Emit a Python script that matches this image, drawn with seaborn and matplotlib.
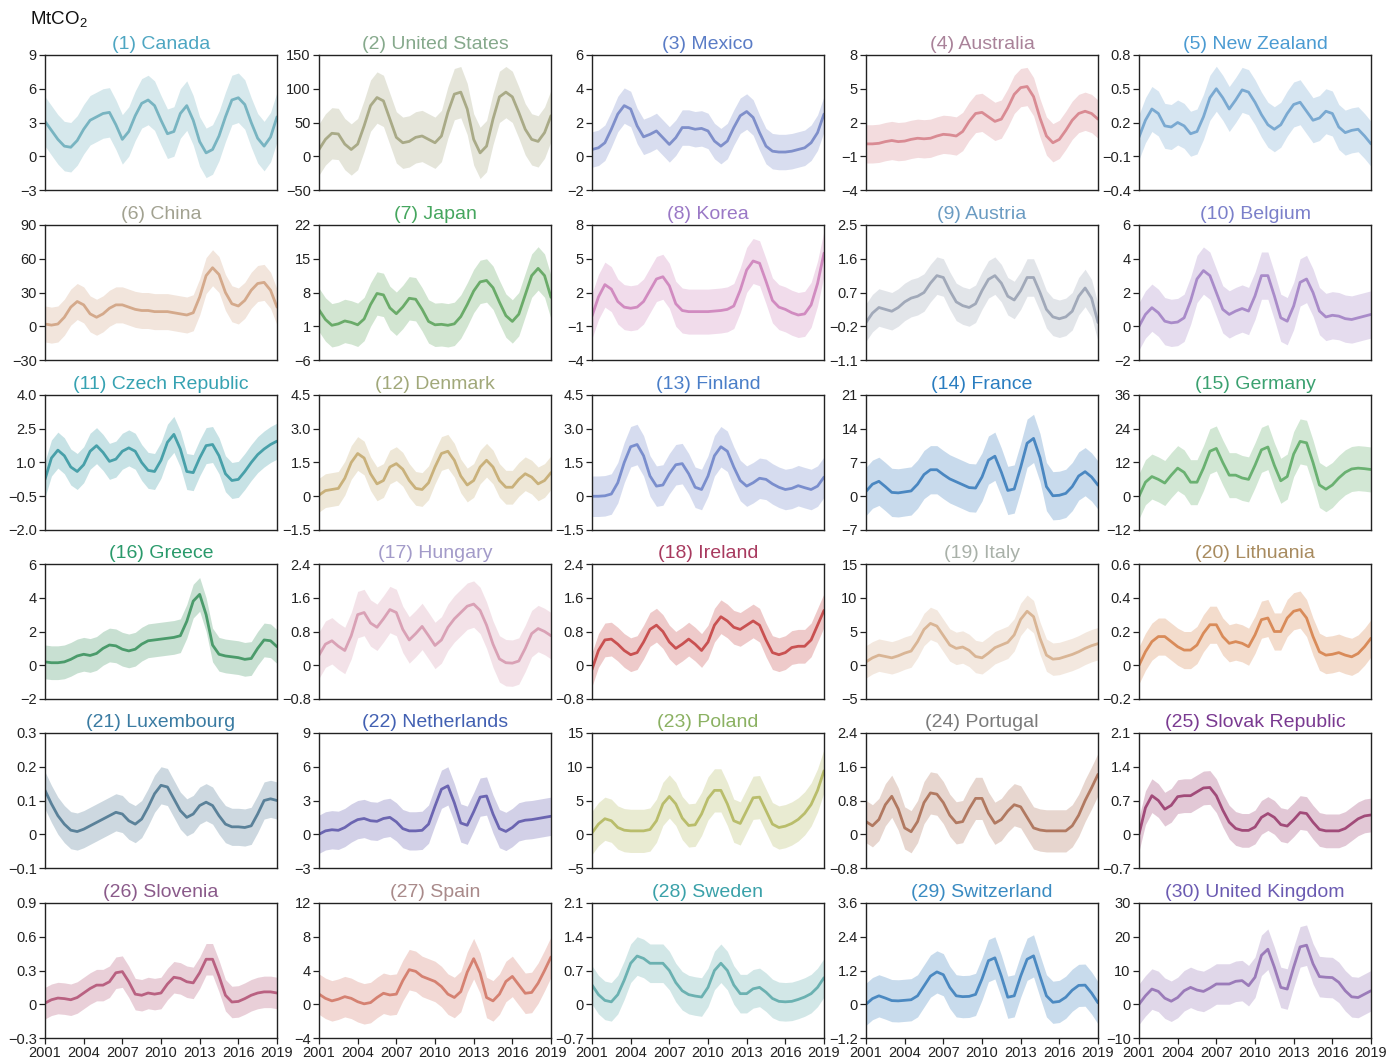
import numpy as np
import pandas as pd
import matplotlib
matplotlib.use("Agg")
import matplotlib.pyplot as plt
import seaborn as sns

# ---------------- data (half-year steps, 2001 ... 2019) ----------------
years = np.arange(2001, 2019.01, 0.5)

names = ["(1) Canada", "(2) United States", "(3) Mexico", "(4) Australia", "(5) New Zealand",
         "(6) China", "(7) Japan", "(8) Korea", "(9) Austria", "(10) Belgium",
         "(11) Czech Republic", "(12) Denmark", "(13) Finland", "(14) France", "(15) Germany",
         "(16) Greece", "(17) Hungary", "(18) Ireland", "(19) Italy", "(20) Lithuania",
         "(21) Luxembourg", "(22) Netherlands", "(23) Poland", "(24) Portugal", "(25) Slovak Republic",
         "(26) Slovenia", "(27) Spain", "(28) Sweden", "(29) Switzerland", "(30) United Kingdom"]

canada = [3.1, 2.3, 1.5, 0.9, 0.8, 1.4, 2.4, 3.2, 3.5, 3.8, 3.9, 2.8, 1.5, 2.2, 3.6, 4.7, 5.0, 4.5, 3.2,
          2.0, 2.2, 3.8, 4.5, 3.2, 1.3, 0.3, 0.6, 1.8, 3.5, 5.0, 5.2, 4.6, 3.0, 1.6, 0.9, 1.7, 3.5]
united_states = [10, 25, 34, 33, 18, 10, 18, 45, 75, 87, 82, 55, 28, 20, 22, 28, 30, 25, 20,
                 30, 65, 92, 95, 70, 25, 5, 15, 55, 88, 95, 88, 65, 40, 25, 22, 35, 60]
mexico = [0.4, 0.5, 0.8, 1.6, 2.5, 3.0, 2.8, 1.8, 1.15, 1.3, 1.5, 1.1, 0.7, 1.1, 1.7, 1.7, 1.6, 1.65, 1.5,
          0.9, 0.6, 0.9, 1.7, 2.4, 2.65, 2.3, 1.4, 0.6, 0.3, 0.25, 0.25, 0.3, 0.4, 0.5, 0.8, 1.4, 2.5]
australia = [0.1, 0.1, 0.15, 0.3, 0.4, 0.3, 0.35, 0.5, 0.6, 0.55, 0.6, 0.8, 0.95, 0.9, 0.8, 1.2, 2.1, 2.8, 2.9,
             2.5, 2.1, 2.3, 3.3, 4.5, 5.1, 5.2, 4.3, 2.4, 0.8, 0.2, 0.5, 1.3, 2.2, 2.8, 3.0, 2.8, 2.3]
new_zealand = [0.07, 0.22, 0.32, 0.28, 0.17, 0.16, 0.2, 0.17, 0.1, 0.12, 0.25, 0.42, 0.5, 0.42, 0.32, 0.4, 0.49,
               0.47, 0.38, 0.27, 0.18, 0.14, 0.18, 0.28, 0.36, 0.38, 0.3, 0.22, 0.24, 0.3, 0.28, 0.16, 0.11,
               0.13, 0.14, 0.08, 0.01]
china = [2, 1, 2, 8, 17, 22, 19, 11, 8, 11, 16, 19, 19, 17, 15, 14, 14, 13, 13,
         13, 12, 11, 10, 12, 26, 45, 52, 46, 30, 20, 18, 23, 32, 38, 39, 32, 17]
japan = [4.4, 2.4, 1.2, 1.5, 2.1, 1.8, 1.3, 2.5, 5.5, 7.8, 7.5, 4.8, 3.6, 5.0, 6.8, 6.6, 4.5, 2.0, 1.3,
         1.4, 1.2, 1.5, 3.0, 5.5, 8.3, 10.2, 10.5, 9.0, 6.0, 3.2, 2.0, 3.5, 7.5, 11.5, 13.0, 11.5, 7.0]
korea = [-0.1, 1.6, 2.7, 2.3, 1.2, 0.7, 0.6, 0.7, 1.2, 2.2, 3.2, 3.4, 2.6, 1.0, 0.4, 0.3, 0.3, 0.3, 0.3,
         0.35, 0.4, 0.5, 0.8, 2.2, 4.0, 4.8, 4.6, 3.0, 1.3, 0.7, 0.5, 0.2, 0.0, 0.1, 0.9, 2.8, 5.5]
austria = [-0.1, 0.15, 0.3, 0.25, 0.2, 0.3, 0.45, 0.55, 0.6, 0.7, 0.95, 1.15, 1.1, 0.75, 0.45, 0.35, 0.3, 0.4,
           0.75, 1.05, 1.15, 0.95, 0.6, 0.5, 0.75, 1.1, 1.1, 0.7, 0.25, 0.05, 0.0, 0.05, 0.2, 0.6, 0.82,
           0.55, -0.1]
belgium = [0.0, 0.7, 1.1, 0.8, 0.3, 0.2, 0.25, 0.5, 1.5, 2.8, 3.3, 3.0, 2.0, 1.0, 0.7, 0.9, 1.05, 0.9, 1.8,
           3.0, 3.0, 1.8, 0.5, 0.3, 1.2, 2.6, 2.8, 2.0, 0.9, 0.55, 0.65, 0.6, 0.45, 0.4, 0.5, 0.6, 0.7]
czech = [0.25, 1.2, 1.55, 1.3, 0.8, 0.6, 0.9, 1.5, 1.75, 1.45, 1.05, 1.15, 1.5, 1.65, 1.5, 1.0, 0.65, 0.6,
         1.1, 1.9, 2.25, 1.6, 0.6, 0.55, 1.2, 1.75, 1.8, 1.3, 0.5, 0.2, 0.25, 0.6, 1.0, 1.35, 1.6, 1.8, 1.95]
denmark = [0.05, 0.25, 0.3, 0.35, 0.8, 1.5, 1.9, 1.7, 1.0, 0.55, 0.7, 1.3, 1.45, 1.2, 0.7, 0.35, 0.3, 0.6,
           1.3, 1.9, 2.0, 1.6, 0.9, 0.5, 0.7, 1.3, 1.6, 1.3, 0.7, 0.4, 0.4, 0.75, 1.0, 0.85, 0.55, 0.7, 1.05]
finland = [0.0, 0.0, 0.02, 0.1, 0.6, 1.5, 2.2, 2.3, 1.8, 0.9, 0.45, 0.5, 1.0, 1.4, 1.45, 1.0, 0.4, 0.3,
           0.9, 1.8, 2.2, 2.0, 1.3, 0.7, 0.45, 0.6, 0.8, 0.75, 0.55, 0.4, 0.3, 0.35, 0.47, 0.38, 0.3,
           0.45, 0.85]
france = [1.0, 2.5, 3.1, 2.0, 0.8, 0.7, 0.9, 1.1, 2.5, 4.5, 5.5, 5.5, 4.5, 3.6, 3.0, 2.4, 1.8, 1.7, 4.0,
          7.5, 8.3, 5.0, 1.2, 1.5, 6.0, 11.0, 12.0, 8.0, 2.0, 0.1, 0.2, 0.6, 2.0, 4.2, 5.1, 4.0, 2.3]
germany = [0.0, 5.0, 7.0, 6.0, 4.7, 7.5, 10.0, 8.5, 5.0, 5.0, 10.0, 16.0, 17.0, 12.0, 7.5, 7.5, 6.5, 6.0,
           11.0, 16.5, 17.5, 11.0, 5.5, 7.0, 15.0, 19.5, 19.0, 12.0, 4.0, 2.5, 4.0, 6.5, 8.5, 9.7, 10.0,
           9.8, 9.5]
greece = [0.2, 0.15, 0.15, 0.2, 0.35, 0.55, 0.65, 0.58, 0.7, 1.0, 1.2, 1.15, 0.95, 0.85, 0.95, 1.25, 1.45,
          1.5, 1.55, 1.6, 1.65, 1.75, 2.6, 3.8, 4.2, 3.0, 1.2, 0.65, 0.55, 0.5, 0.45, 0.35, 0.4, 1.0, 1.5,
          1.45, 1.1]
hungary = [0.24, 0.5, 0.58, 0.45, 0.35, 0.7, 1.2, 1.25, 1.0, 0.9, 1.1, 1.32, 1.25, 0.85, 0.6, 0.75, 0.92,
           0.7, 0.47, 0.6, 0.9, 1.1, 1.25, 1.4, 1.45, 1.3, 0.95, 0.5, 0.15, 0.06, 0.05, 0.1, 0.4, 0.75,
           0.87, 0.8, 0.7]
ireland = [-0.1, 0.35, 0.6, 0.62, 0.5, 0.35, 0.25, 0.3, 0.55, 0.85, 0.95, 0.8, 0.55, 0.4, 0.5, 0.62, 0.5,
           0.35, 0.55, 0.95, 1.15, 1.05, 0.9, 0.85, 0.95, 1.05, 0.95, 0.6, 0.3, 0.25, 0.3, 0.42, 0.45,
           0.45, 0.6, 0.95, 1.3]
italy = [0.5, 1.1, 1.5, 1.3, 1.1, 1.4, 1.8, 2.1, 3.5, 5.3, 6.2, 5.8, 4.4, 3.0, 2.5, 2.7, 2.2, 1.3, 1.1,
         1.8, 2.6, 3.0, 3.4, 4.5, 6.8, 8.0, 7.2, 4.0, 1.5, 0.9, 1.0, 1.3, 1.6, 2.0, 2.5, 2.9, 3.2]
lithuania = [0.0, 0.08, 0.14, 0.17, 0.17, 0.14, 0.11, 0.09, 0.09, 0.12, 0.19, 0.24, 0.24, 0.17, 0.13, 0.14,
             0.13, 0.11, 0.18, 0.27, 0.28, 0.2, 0.2, 0.28, 0.32, 0.33, 0.28, 0.17, 0.08, 0.06, 0.065,
             0.075, 0.06, 0.05, 0.07, 0.11, 0.16]
luxembourg = [0.13, 0.09, 0.055, 0.03, 0.012, 0.008, 0.015, 0.025, 0.035, 0.045, 0.055, 0.065, 0.06, 0.04,
              0.03, 0.045, 0.08, 0.12, 0.145, 0.14, 0.105, 0.07, 0.05, 0.06, 0.085, 0.095, 0.085, 0.055,
              0.03, 0.022, 0.022, 0.02, 0.025, 0.06, 0.1, 0.105, 0.1]
netherlands = [0.0, 0.3, 0.4, 0.35, 0.6, 1.0, 1.3, 1.4, 1.2, 1.15, 1.4, 1.5, 1.1, 0.5, 0.3, 0.3, 0.35, 0.9,
               2.5, 4.0, 4.3, 2.8, 1.0, 0.8, 2.0, 3.3, 3.4, 1.8, 0.5, 0.25, 0.6, 1.1, 1.25, 1.3, 1.4, 1.5,
               1.6]
poland = [0.2, 1.5, 2.3, 2.0, 1.0, 0.6, 0.5, 0.5, 0.5, 0.7, 2.0, 4.5, 5.6, 4.5, 2.4, 1.3, 1.4, 3.0, 5.3,
          6.5, 6.5, 4.5, 2.0, 1.6, 3.5, 5.4, 5.5, 3.5, 1.5, 1.0, 1.2, 1.6, 2.2, 3.1, 4.4, 6.5, 9.4]
portugal = [0.3, 0.2, 0.35, 0.7, 0.9, 0.6, 0.15, 0.06, 0.3, 0.75, 0.98, 0.95, 0.75, 0.45, 0.27, 0.3, 0.6,
            0.85, 0.85, 0.5, 0.26, 0.35, 0.55, 0.7, 0.65, 0.4, 0.15, 0.1, 0.08, 0.08, 0.08, 0.08, 0.2,
            0.45, 0.8, 1.1, 1.42]
slovak = [0.0, 0.55, 0.8, 0.7, 0.52, 0.6, 0.78, 0.8, 0.8, 0.88, 0.96, 0.97, 0.8, 0.5, 0.25, 0.12, 0.08,
          0.08, 0.15, 0.35, 0.43, 0.35, 0.2, 0.17, 0.3, 0.45, 0.43, 0.25, 0.1, 0.07, 0.07, 0.07, 0.12,
          0.22, 0.32, 0.38, 0.4]
slovenia = [0.01, 0.04, 0.055, 0.05, 0.04, 0.06, 0.1, 0.14, 0.17, 0.17, 0.2, 0.28, 0.29, 0.2, 0.09, 0.08,
            0.1, 0.09, 0.1, 0.18, 0.24, 0.23, 0.2, 0.19, 0.28, 0.4, 0.4, 0.25, 0.08, 0.02, 0.025, 0.05,
            0.08, 0.1, 0.11, 0.11, 0.1]
spain = [1.2, 0.7, 0.4, 0.6, 0.9, 0.7, 0.3, 0.05, 0.2, 0.8, 1.3, 1.1, 1.2, 2.8, 4.1, 3.9, 3.3, 3.0, 2.7,
         2.1, 1.2, 0.8, 1.5, 3.8, 5.4, 3.7, 0.8, 0.4, 1.2, 2.7, 3.3, 2.3, 1.3, 1.4, 2.5, 4.0, 5.6]
sweden = [0.4, 0.2, 0.08, 0.05, 0.2, 0.5, 0.85, 1.0, 0.95, 0.85, 0.85, 0.85, 0.7, 0.45, 0.28, 0.2, 0.17,
          0.15, 0.35, 0.7, 0.85, 0.7, 0.4, 0.22, 0.22, 0.32, 0.35, 0.25, 0.12, 0.06, 0.05, 0.06, 0.1,
          0.15, 0.22, 0.35, 0.55]
switzerland = [0.0, 0.2, 0.3, 0.22, 0.13, 0.12, 0.14, 0.16, 0.3, 0.65, 1.0, 1.15, 1.05, 0.6, 0.3, 0.27,
               0.28, 0.35, 0.9, 1.55, 1.65, 1.0, 0.25, 0.3, 1.0, 1.6, 1.72, 1.0, 0.3, 0.07, 0.1, 0.25,
               0.5, 0.67, 0.68, 0.4, 0.05]
united_kingdom = [0.0, 2.5, 4.5, 3.8, 1.8, 0.9, 2.0, 4.0, 5.0, 4.2, 3.8, 4.8, 6.0, 6.0, 6.0, 6.8, 7.0, 5.5,
                  8.0, 14.5, 16.3, 11.0, 5.0, 4.5, 11.0, 17.0, 17.5, 12.0, 8.2, 8.0, 7.9, 6.5, 4.0, 2.2,
                  2.0, 3.0, 4.0]

series = [canada, united_states, mexico, australia, new_zealand,
          china, japan, korea, austria, belgium,
          czech, denmark, finland, france, germany,
          greece, hungary, ireland, italy, lithuania,
          luxembourg, netherlands, poland, portugal, slovak,
          slovenia, spain, sweden, switzerland, united_kingdom]

# half width of the uncertainty band
band_half = [2.2, 38, 1.05, 1.7, 0.2,
             16, 4.5, 2.0, 0.5, 1.4,
             0.8, 0.75, 0.9, 5.0, 8.0,
             1.0, 0.55, 0.4, 2.4, 0.11,
             0.055, 1.7, 3.2, 0.5, 0.35,
             0.14, 2.4, 0.4, 0.75, 6.0]

M = "\u2212"
ytick_labels = [
    [M+"3", "0", "3", "6", "9"], [M+"50", "0", "50", "100", "150"], [M+"2", "0", "2", "4", "6"],
    [M+"4", M+"1", "2", "5", "8"], [M+"0.4", M+"0.1", "0.2", "0.5", "0.8"],
    [M+"30", "0", "30", "60", "90"], [M+"6", "1", "8", "15", "22"], [M+"4", M+"1", "2", "5", "8"],
    [M+"1.1", M+"0.2", "0.7", "1.6", "2.5"], [M+"2", "0", "2", "4", "6"],
    [M+"2.0", M+"0.5", "1.0", "2.5", "4.0"], [M+"1.5", "0", "1.5", "3.0", "4.5"],
    [M+"1.5", "0", "1.5", "3.0", "4.5"], [M+"7", "0", "7", "14", "21"], [M+"12", "0", "12", "24", "36"],
    [M+"2", "0", "2", "4", "6"], [M+"0.8", "0", "0.8", "1.6", "2.4"], [M+"0.8", "0", "0.8", "1.6", "2.4"],
    [M+"5", "0", "5", "10", "15"], [M+"0.2", "0", "0.2", "0.4", "0.6"],
    [M+"0.1", "0", "0.1", "0.2", "0.3"], [M+"3", "0", "3", "6", "9"], [M+"5", "0", "5", "10", "15"],
    [M+"0.8", "0", "0.8", "1.6", "2.4"], [M+"0.7", "0", "0.7", "1.4", "2.1"],
    [M+"0.3", "0", "0.3", "0.6", "0.9"], [M+"4", "0", "4", "8", "12"], [M+"0.7", "0", "0.7", "1.4", "2.1"],
    [M+"1.2", "0", "1.2", "2.4", "3.6"], [M+"10", "0", "10", "20", "30"],
]

xtick_years = [2001, 2004, 2007, 2010, 2013, 2016, 2019]

title_colors = ["#4ea6c2", "#86a98c", "#5a7cc6", "#a98299", "#4b9bd2",
                "#a2a291", "#45a65e", "#9a78c6", "#6a9bc2", "#7b80ca",
                "#36a2b2", "#a1a87a", "#4a7ec8", "#2a7dc0", "#3ba170",
                "#2a9a6b", "#a39bc9", "#a83a5f", "#a9b1a9", "#a88b5f",
                "#3a7ba2", "#4260b2", "#8bb162", "#7b7b7b", "#7a3a91",
                "#8a5a8a", "#a98a8a", "#3aa1a9", "#3a8bc2", "#6b5bb2"]
line_colors = ["#78b4c1", "#a9aa87", "#7f8fca", "#d98b93", "#7aa9d1",
               "#d4a98b", "#6aab69", "#d18bc0", "#a1a9b9", "#a98bc9",
               "#48a0a9", "#c9b17b", "#7a8ecd", "#4a87c1", "#6ab171",
               "#4b9b6b", "#d9a1b5", "#c95151", "#d9b595", "#d98b59",
               "#5a8199", "#6b65b1", "#b9bd6b", "#b17961", "#a14b79",
               "#b96181", "#d58171", "#6bb1b1", "#4b89c1", "#9b7bb9"]

# ---------------- figure ----------------
sns.set_style("ticks")
plt.rcParams["font.family"] = ["Liberation Sans", "DejaVu Sans"]
plt.rcParams["mathtext.fontset"] = "custom"
plt.rcParams["mathtext.rm"] = "Liberation Sans"

W, H = 1389, 1061
fig = plt.figure(figsize=(W / 100, H / 100), dpi=100)

col_left = [45, 319, 592, 866, 1139]
row_top = [55, 225, 395, 564, 733, 903]
ax_w, ax_h = 232, 135

for i in range(30):
    r, c = divmod(i, 5)
    ax = fig.add_axes([col_left[c] / W, 1 - (row_top[r] + ax_h) / H, ax_w / W, ax_h / H])
    mid = np.array(series[i], dtype=float)
    hw = band_half[i]
    ax.fill_between(years, mid - hw, mid + hw, color=line_colors[i], alpha=0.30, lw=0)
    df = pd.DataFrame({"year": years, "value": mid})
    sns.lineplot(data=df, x="year", y="value", ax=ax, color=line_colors[i], lw=2.0)
    labs = ytick_labels[i]
    vals = [float(s.replace(M, "-")) for s in labs]
    ax.set_ylim(vals[0], vals[-1])
    ax.set_yticks(vals)
    ax.set_yticklabels(labs)
    ax.set_xlim(2001, 2019)
    ax.set_xticks(xtick_years)
    if r == 5:
        ax.set_xticklabels([str(y) for y in xtick_years])
        ax.tick_params(axis="x", length=4, width=0.9, labelsize=10.5, pad=2, colors="#222222")
    else:
        ax.set_xticklabels([])
        ax.tick_params(axis="x", length=0)
    ax.tick_params(axis="y", length=4, width=0.9, labelsize=10.5, pad=2, colors="#222222")
    ax.set_xlabel("")
    ax.set_ylabel("")
    for sp in ax.spines.values():
        sp.set_visible(True)
        sp.set_linewidth(1.0)
        sp.set_color("#222222")
    ax.set_title(names[i], color=title_colors[i], fontsize=14, pad=4)

fig.text(30 / W, 1 - 20 / H, "MtCO$_2$", fontsize=13.5, ha="left", va="center", color="#111111")

fig.savefig("out.png", dpi=100)
